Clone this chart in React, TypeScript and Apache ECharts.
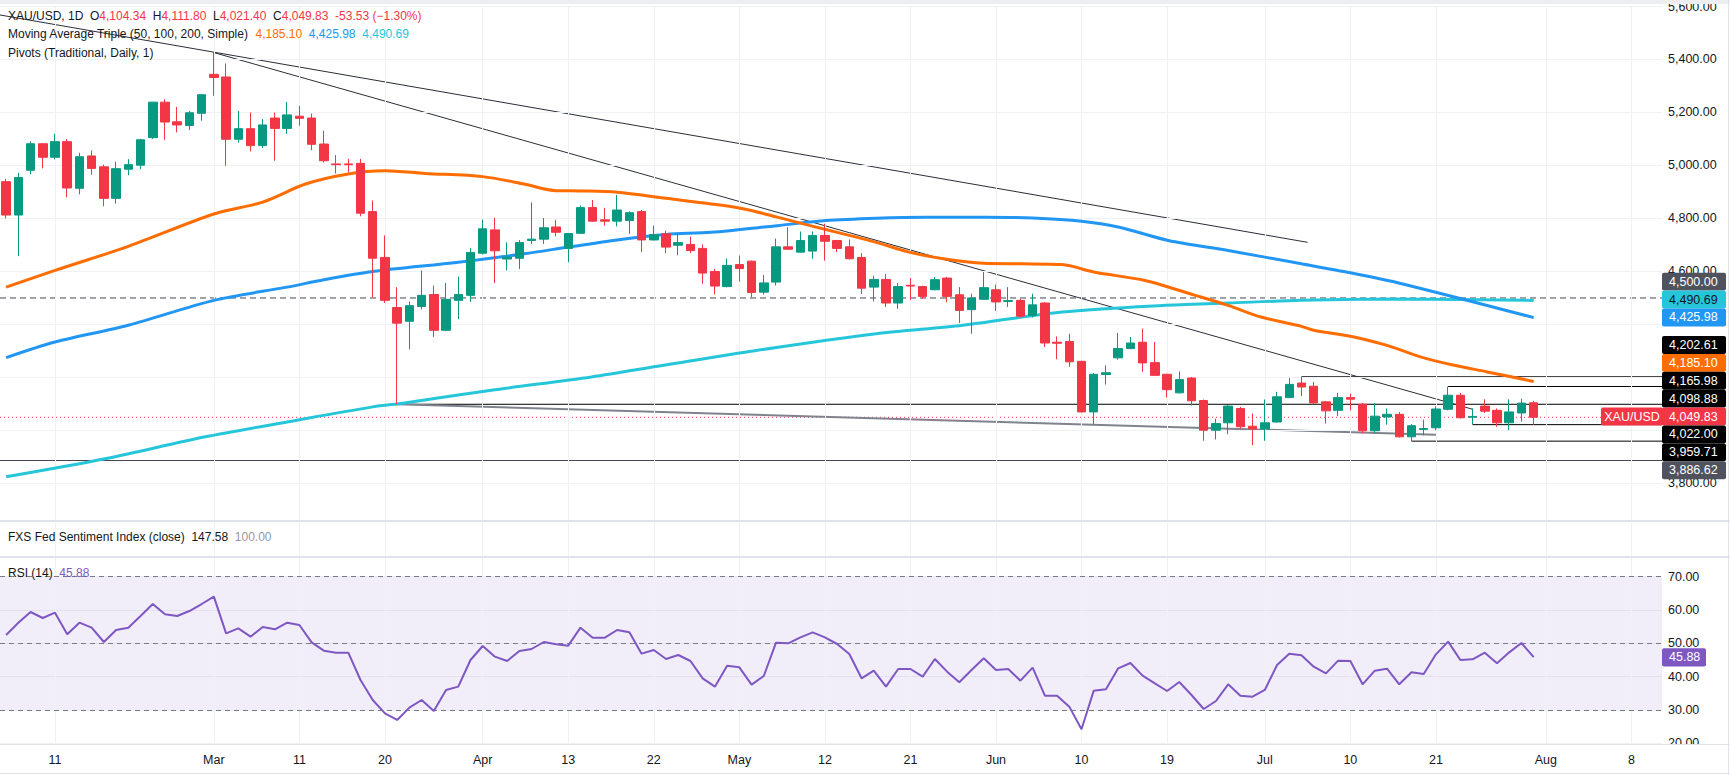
import React, { useEffect, useRef } from "react";
import * as echarts from "echarts";

// ---------- data ----------
const N_SLOTS = 136; // 126 trading days + future slots on the time axis

const TICK_INDEX = [4, 17, 24, 31, 39, 46, 53, 60, 67, 74, 81, 88, 95, 103, 110, 117, 126, 133];
const TICK_TEXT = ["11", "Mar", "11", "20", "Apr", "13", "22", "May", "12", "21", "Jun", "10", "19", "Jul", "10", "21", "Aug", "8"];

const PRICE_GRID = [3800, 4000, 4200, 4400, 4600, 4800, 5000, 5200, 5400, 5600];
// price-scale labels that are not hidden behind the price tags
const PRICE_LABELS = [3800, 4600, 4800, 5000, 5200, 5400, 5600];

// [open, high, low, close]
const OHLC: number[][] = [
  [4939, 4950, 4800, 4813], [4813, 4972, 4658, 4955], [4982, 5091, 4967, 5082], [5082, 5085, 4989, 5031],
  [5031, 5120, 5023, 5090], [5090, 5100, 4880, 4915], [4914, 5048, 4891, 5033], [5036, 5056, 4965, 4989],
  [4995, 5003, 4846, 4876], [4876, 5014, 4856, 4988], [4986, 5024, 4963, 5003], [5001, 5101, 4986, 5097],
  [5105, 5240, 5100, 5239], [5239, 5250, 5097, 5164], [5165, 5221, 5125, 5153], [5151, 5206, 5134, 5199],
  [5197, 5268, 5169, 5267], [5344, 5426, 5263, 5332], [5334, 5385, 4999, 5099], [5099, 5206, 5086, 5139],
  [5139, 5200, 5053, 5075], [5075, 5175, 5066, 5153], [5179, 5200, 5018, 5140], [5140, 5240, 5119, 5191],
  [5186, 5225, 5150, 5178], [5179, 5196, 5058, 5080], [5081, 5131, 5012, 5018], [5006, 5039, 4970, 5003],
  [5006, 5025, 4974, 5003], [5008, 5025, 4808, 4820], [4826, 4868, 4503, 4650], [4653, 4736, 4481, 4491],
  [4464, 4541, 4098.88, 4405], [4412, 4487, 4306, 4471], [4468, 4604, 4457, 4510], [4513, 4547, 4353, 4378],
  [4378, 4557, 4375, 4495], [4491, 4581, 4420, 4513], [4510, 4689, 4485, 4672], [4669, 4796, 4664, 4761],
  [4757, 4802, 4556, 4678], [4647, 4710, 4604, 4654], [4650, 4719, 4609, 4709], [4717, 4861, 4704, 4722],
  [4722, 4802, 4704, 4765], [4768, 4795, 4733, 4748], [4687, 4745, 4635, 4743], [4744, 4849, 4742, 4841],
  [4841, 4870, 4788, 4790], [4795, 4840, 4773, 4790], [4790, 4889, 4770, 4832], [4792, 4827, 4742, 4822],
  [4826, 4832, 4673, 4719], [4719, 4773, 4717, 4739], [4742, 4754, 4669, 4692], [4699, 4744, 4661, 4709],
  [4702, 4732, 4669, 4679], [4687, 4702, 4554, 4594], [4600, 4610, 4513, 4545], [4543, 4649, 4540, 4623],
  [4626, 4660, 4562, 4611], [4639, 4641, 4503, 4521], [4522, 4587, 4513, 4557], [4560, 4724, 4547, 4693],
  [4693, 4767, 4682, 4684], [4673, 4751, 4671, 4717], [4677, 4751, 4648, 4736], [4736, 4780, 4641, 4714],
  [4717, 4719, 4673, 4687], [4693, 4721, 4645, 4648], [4653, 4669, 4515, 4537], [4541, 4584, 4487, 4570],
  [4570, 4591, 4466, 4481], [4481, 4556, 4459, 4543], [4548, 4575, 4493, 4545], [4543, 4546, 4497, 4506],
  [4531, 4579, 4529, 4569], [4575, 4579, 4484, 4506], [4512, 4541, 4405, 4453], [4456, 4516, 4365, 4500],
  [4495, 4598, 4494, 4539], [4531, 4551, 4451, 4485], [4487, 4541, 4466, 4490], [4491, 4497, 4426, 4431],
  [4434, 4516, 4426, 4474], [4481, 4484, 4315, 4330], [4333, 4355, 4269, 4329], [4336, 4365, 4240, 4259],
  [4261, 4263, 4068, 4070], [4070, 4217, 4024, 4212], [4211, 4246, 4173, 4218], [4274, 4368, 4267, 4309],
  [4309, 4353, 4307, 4330], [4333, 4384, 4221, 4255], [4256, 4334, 4207, 4208], [4212, 4214, 4124, 4154],
  [4142, 4223, 4140, 4192], [4198, 4202, 4094, 4112], [4113, 4117, 3961, 4001], [4001, 4045, 3966, 4026],
  [4029, 4095, 3986, 4092], [4083, 4089, 4007, 4014], [4016, 4064, 3945, 4006], [4006, 4117, 3961, 4029],
  [4032, 4146, 4030, 4127], [4124, 4198, 4122, 4174], [4179, 4202.61, 4130, 4164], [4167, 4183, 4099, 4104],
  [4108, 4110, 4026, 4074], [4076, 4142, 4054, 4124], [4124, 4139, 4076, 4118], [4099, 4104, 3989, 3999],
  [3999, 4104, 3989, 4054], [4051, 4083, 4022, 4061], [4061, 4070, 3973, 3976], [3976, 4024, 3959.71, 4018],
  [4004, 4041, 3982, 4007], [4010, 4091, 4001, 4081], [4080, 4165.98, 4076, 4133], [4133, 4142, 4045, 4048],
  [4050, 4083, 4022, 4053], [4092, 4118, 4066, 4073], [4076, 4083, 4014, 4029], [4029, 4118, 4001, 4070],
  [4066, 4120, 4033, 4103.36], [4104.34, 4111.8, 4021.4, 4049.83],
];

const RSI = [
  52.5, 56.2, 59.4, 57.6, 59.2, 52.7, 56.2, 54.7, 50.4, 54.0, 54.7, 58.2, 61.8, 58.7, 58.2, 59.7, 61.8, 64.0,
  53.0, 54.5, 52.0, 54.9, 54.2, 56.2, 55.5, 50.3, 47.8, 47.2, 47.2, 39.0, 33.0, 29.0, 27.0, 30.7, 33.0, 29.7,
  36.0, 37.0, 45.0, 49.2, 46.0, 44.7, 47.7, 48.3, 50.4, 49.7, 49.3, 54.7, 51.7, 51.7, 54.0, 53.3, 46.9, 48.0,
  45.3, 46.5, 44.7, 39.5, 37.0, 43.3, 42.8, 37.6, 40.2, 50.2, 50.0, 51.8, 53.3, 51.8, 49.8, 46.8, 39.5, 41.8,
  37.0, 42.3, 42.3, 40.0, 45.3, 41.5, 38.3, 42.0, 45.5, 42.0, 42.3, 38.8, 42.7, 34.3, 34.3, 31.0, 24.2, 35.8,
  36.2, 42.5, 44.1, 40.3, 38.0, 35.7, 38.4, 34.5, 30.3, 32.7, 37.7, 34.3, 34.0, 36.0, 43.5, 46.9, 46.4, 43.0,
  41.0, 44.8, 44.7, 37.7, 41.8, 42.4, 37.7, 41.3, 40.8, 46.7, 50.5, 45.0, 45.2, 47.2, 44.0, 47.3, 50.1, 45.88,
];

// moving averages read at bar positions [barIndex, value]
const MA50 = [
  [0, 4541], [4, 4604], [10, 4695], [17, 4817], [21, 4862], [24.5, 4930], [28, 4968], [31, 4980], [34.3, 4970],
  [39, 4958], [42.4, 4930], [45, 4905], [47, 4904], [50, 4899], [54, 4876], [57.7, 4855], [60.4, 4836],
  [63.1, 4805], [65.8, 4773], [68.5, 4742], [71.2, 4710], [73.9, 4673], [76.7, 4648], [80, 4631], [83, 4629],
  [86.4, 4626], [89.1, 4597], [93.2, 4566], [97.3, 4510], [100, 4472], [102.7, 4428], [106, 4393], [107, 4378],
  [110.3, 4353], [113, 4321], [115.8, 4277], [118.5, 4246], [121.2, 4221], [125, 4185.1],
];
const MA100 = [
  [0, 4275], [4, 4334], [10, 4397], [17, 4491], [23, 4541], [26, 4569], [30, 4600], [37, 4635], [42.4, 4667],
  [46, 4692], [50.6, 4723], [54, 4740], [57.7, 4748], [63.1, 4773], [67.1, 4792], [71.2, 4801], [75.3, 4805],
  [80, 4805], [84, 4802], [88, 4790], [91, 4768], [95.1, 4717], [100, 4679], [106, 4629], [110, 4595],
  [114.2, 4554], [125, 4425.98],
];
const MA200 = [
  [0, 3825], [8.2, 3894], [16.3, 3976], [23.1, 4033], [30, 4089], [32.6, 4104], [39.7, 4152], [47.9, 4202],
  [53.8, 4246], [61.4, 4302], [71.2, 4365], [78.3, 4397], [86.4, 4447], [94.6, 4472], [100, 4481], [106, 4491],
  [114, 4496], [125, 4490.69],
];

// drawn trend lines [barIndex, price]
const TREND_UPPER = [[-0.5, 5568], [106.5, 4710]];
const TREND_MID = [[17, 5426], [120, 4080]];
const TREND_LOW = [[32, 4098.88], [117, 3984]];

// horizontal levels
const FULL_LEVELS = [4500, 3886.62];
const PIVOT_LEVELS = [4202.61, 4165.98, 4098.88, 4022.0, 3959.71];
const PIVOT_FROM = [106, 118, 32, 120, 115];

const FXS_VALUE = 147.58;
const FXS_BASE = 100.0;

// ---------- styling / layout ----------
const FONT = "'Liberation Sans', Arial, sans-serif";
const TXT = "#131722";
const UP = "#089981";
const DOWN = "#f23645";
const C50 = "#ff6d00";
const C100 = "#2196f3";
const C200 = "#26c6da";
const RSI_C = "#7e57c2";
const GRID_C = "#eff1f5";
const SEP_C = "#e0e3eb";

const PLOT_RIGHT = 1662;
const PITCH = 12.27;
const GRID_LEFT = PLOT_RIGHT - N_SLOTS * PITCH;
const RIGHT = 1730 - PLOT_RIGHT;
const Y_MAX = 5601.9;
const Y_MIN = 3659.5;
const RSI_TOP = 75.91;
const X_MAX = N_SLOTS - 0.5;
const LEGEND_SIZE = 12;

const fmt = (v: number) =>
  v.toLocaleString("en-US", { minimumFractionDigits: 2, maximumFractionDigits: 2 });

function buildOption() {
  const cats = Array.from({ length: N_SLOTS }, (_, i) => String(i));
  const last = OHLC[OHLC.length - 1];
  const prevClose = OHLC[OHLC.length - 2][3];
  const change = last[3] - prevClose;
  const pct = (change / prevClose) * 100;
  const ma50Last = MA50[MA50.length - 1][1];
  const ma100Last = MA100[MA100.length - 1][1];
  const ma200Last = MA200[MA200.length - 1][1];
  const rsiLast = RSI[RSI.length - 1];

  const vGrid = TICK_INDEX.map((i) => ({ xAxis: i }));
  const gridSeries = (xi: number, yi: number, extra: any[]) => ({
    type: "line",
    xAxisIndex: xi,
    yAxisIndex: yi,
    data: [],
    silent: true,
    z: 1,
    markLine: {
      silent: true,
      symbol: ["none", "none"],
      label: { show: false },
      lineStyle: { color: GRID_C, width: 1, type: "solid" },
      data: [...vGrid, ...extra],
    },
  });

  const seg = (data: number[][], color: string, width: number, type: any = "solid", z = 4) => ({
    type: "line",
    xAxisIndex: 1,
    yAxisIndex: 0,
    data,
    symbol: "none",
    silent: true,
    z,
    lineStyle: { color, width, type },
  });

  const maLine = (data: number[][], color: string) => ({
    type: "line",
    xAxisIndex: 1,
    yAxisIndex: 0,
    data,
    symbol: "none",
    silent: true,
    smooth: 0.3,
    z: 5,
    lineStyle: { color, width: 3 },
  });

  const series: any[] = [
    gridSeries(1, 0, PRICE_GRID.map((v) => ({ yAxis: v }))),
    gridSeries(2, 1, []),
    gridSeries(4, 2, []),
    seg([[-0.5, FULL_LEVELS[0]], [X_MAX, FULL_LEVELS[0]]], "#434651", 1, [6, 4], 3),
    seg([[-0.5, FULL_LEVELS[1]], [X_MAX, FULL_LEVELS[1]]], "#434651", 1, "solid", 3),
    ...PIVOT_LEVELS.map((lv, k) => seg([[PIVOT_FROM[k], lv], [X_MAX, lv]], "#000000", 1, "solid", 3)),
    seg([[-0.5, last[3]], [X_MAX, last[3]]], DOWN, 1, [1, 3], 3),
    seg(TREND_UPPER, "#2a2e39", 1),
    seg(TREND_MID, "#2a2e39", 1),
    seg(TREND_LOW, "#80838d", 2),
    {
      type: "candlestick",
      xAxisIndex: 0,
      yAxisIndex: 0,
      data: OHLC.map(([o, h, l, c]) => [o, c, l, h]),
      barWidth: 9,
      silent: true,
      z: 6,
      itemStyle: { color: UP, color0: DOWN, borderColor: UP, borderColor0: DOWN, borderWidth: 1 },
    },
    maLine(MA200, C200),
    maLine(MA100, C100),
    maLine(MA50, C50),
    {
      type: "line",
      xAxisIndex: 3,
      yAxisIndex: 2,
      data: RSI,
      symbol: "none",
      silent: true,
      z: 5,
      lineStyle: { color: RSI_C, width: 2 },
      markArea: {
        silent: true,
        itemStyle: { color: "rgba(126,87,194,0.1)" },
        data: [[{ yAxis: 30 }, { yAxis: 70 }]],
      },
      markLine: {
        silent: true,
        symbol: ["none", "none"],
        label: { show: false },
        lineStyle: { color: "#787b86", width: 1, type: [5, 4] },
        data: [{ yAxis: 70 }, { yAxis: 50 }, { yAxis: 30 }],
      },
    },
  ];

  const rich = (size: number) => ({
    k: { fill: TXT, fontSize: size, fontFamily: FONT },
    r: { fill: DOWN, fontSize: size, fontFamily: FONT },
    o: { fill: C50, fontSize: size, fontFamily: FONT },
    b: { fill: C100, fontSize: size, fontFamily: FONT },
    c: { fill: C200, fontSize: size, fontFamily: FONT },
    g: { fill: "#9598a1", fontSize: size, fontFamily: FONT },
    p: { fill: RSI_C, fontSize: size, fontFamily: FONT },
  });
  const label = (text: string, x: number, y: number, size = LEGEND_SIZE) => ({
    type: "text",
    x,
    y,
    z: 120,
    silent: true,
    style: { text, fontSize: size, fontFamily: FONT, fill: TXT, verticalAlign: "middle", align: "left", rich: rich(size) },
  });
  const tag = (y: number, bg: string, fg: string, text: string, x = PLOT_RIGHT, w = 64, h = 17.9, center = false) => [
    { type: "rect", z: 110, silent: true, shape: { x, y, width: w, height: h, r: 2 }, style: { fill: bg } },
    {
      type: "text",
      z: 111,
      silent: true,
      x: center ? x + w / 2 : x + 7,
      y: y + h / 2,
      style: { text, fill: fg, fontSize: 12.5, fontFamily: FONT, verticalAlign: "middle", align: center ? "center" : "left" },
    },
  ];

  const DARK = "#50535e";
  const H = 17.9;
  const g1 = 272.7;
  const g2 = 336;
  const lowerTags: [string, string, number][] = [
    ["#000000", "#ffffff", PIVOT_LEVELS[0]],
    [C50, "#ffffff", ma50Last],
    ["#000000", "#ffffff", PIVOT_LEVELS[1]],
    ["#000000", "#ffffff", PIVOT_LEVELS[2]],
    [DOWN, "#ffffff", last[3]],
    ["#000000", "#ffffff", PIVOT_LEVELS[3]],
    ["#000000", "#ffffff", PIVOT_LEVELS[4]],
    [DARK, "#ffffff", FULL_LEVELS[1]],
  ];

  const elements: any[] = [
    { type: "rect", z: 100, silent: true, shape: { x: 0, y: 0, width: 1730, height: 4 }, style: { fill: "#eceef2" } },
    { type: "line", z: 100, silent: true, shape: { x1: 0, y1: 521, x2: 1730, y2: 521 }, style: { stroke: SEP_C, lineWidth: 2 } },
    { type: "line", z: 100, silent: true, shape: { x1: 0, y1: 557, x2: 1730, y2: 557 }, style: { stroke: SEP_C, lineWidth: 2 } },
    { type: "rect", z: 100, silent: true, shape: { x: PLOT_RIGHT + 1, y: 745, width: 1730 - PLOT_RIGHT - 1, height: 30 }, style: { fill: "#ffffff" } },
    { type: "line", z: 101, silent: true, shape: { x1: 0, y1: 744.5, x2: 1730, y2: 744.5 }, style: { stroke: SEP_C, lineWidth: 1 } },
    { type: "line", z: 101, silent: true, shape: { x1: 0, y1: 773.5, x2: 1730, y2: 773.5 }, style: { stroke: SEP_C, lineWidth: 1 } },
    { type: "line", z: 101, silent: true, shape: { x1: 1728.5, y1: 0, x2: 1728.5, y2: 775 }, style: { stroke: SEP_C, lineWidth: 1 } },
    label(
      `{k|XAU/USD, 1D}  {k|O}{r|${fmt(last[0])}}  {k|H}{r|${fmt(last[1])}}  {k|L}{r|${fmt(last[2])}}  {k|C}{r|${fmt(last[3])}}  {r|${change.toFixed(2)} (${pct < 0 ? "\u2212" : "+"}${Math.abs(pct).toFixed(2)}%)}`,
      8,
      16
    ),
    label(
      `{k|Moving Average Triple (50, 100, 200, Simple)}  {o|${fmt(ma50Last)}}  {b|${fmt(ma100Last)}}  {c|${fmt(ma200Last)}}`,
      8,
      34.3
    ),
    label(`{k|Pivots (Traditional, Daily, 1)}`, 8, 52.7),
    label(`{k|FXS Fed Sentiment Index (close)}  {k|${fmt(FXS_VALUE)}}  {g|${fmt(FXS_BASE)}}`, 8, 537),
    label(`{k|RSI (14)}  {p|${fmt(rsiLast)}}`, 8, 572.7),
    ...tag(g1, DARK, "#ffffff", fmt(FULL_LEVELS[0])),
    ...tag(g1 + H, C200, TXT, fmt(ma200Last)),
    ...tag(g1 + 2 * H, C100, "#ffffff", fmt(ma100Last)),
    ...lowerTags.flatMap(([bg, fg, v], k) => tag(g2 + k * H, bg, fg, fmt(v))),
    ...tag(g2 + 4 * H, DOWN, "#ffffff", "XAU/USD", 1601, 62, H, true),
    ...tag(648.2, RSI_C, "#ffffff", fmt(rsiLast), PLOT_RIGHT, 44, 18.4),
  ];

  const valueX = (gridIndex: number) => ({ gridIndex, type: "value", min: -0.5, max: X_MAX, show: false });

  return {
    animation: false,
    backgroundColor: "#ffffff",
    textStyle: { fontFamily: FONT },
    grid: [
      { left: GRID_LEFT, right: RIGHT, top: 5, height: 515.7 },
      { left: GRID_LEFT, right: RIGHT, top: 521, height: 36 },
      { left: GRID_LEFT, right: RIGHT, top: 557, height: 186.3 },
    ],
    xAxis: [
      {
        gridIndex: 0,
        type: "category",
        data: cats,
        boundaryGap: true,
        axisLine: { show: false },
        axisTick: { show: false },
        axisLabel: { show: false },
        splitLine: { show: false },
      },
      valueX(0),
      valueX(1),
      {
        gridIndex: 2,
        type: "category",
        data: cats,
        boundaryGap: true,
        axisLine: { show: false },
        axisTick: { show: false },
        splitLine: { show: false },
        axisLabel: {
          interval: (idx: number) => TICK_INDEX.includes(idx),
          formatter: (_v: string, idx: number) => {
            const k = TICK_INDEX.indexOf(idx);
            return k >= 0 ? TICK_TEXT[k] : "";
          },
          color: TXT,
          fontSize: 12.5,
          fontFamily: FONT,
          margin: 10,
        },
      },
      valueX(2),
    ],
    yAxis: [
      {
        gridIndex: 0,
        type: "value",
        position: "right",
        min: Y_MIN,
        max: Y_MAX,
        axisLine: { show: false },
        axisTick: { show: false },
        splitLine: { show: false },
        axisLabel: {
          customValues: PRICE_LABELS,
          formatter: (v: number) => fmt(v),
          color: TXT,
          fontSize: 12.5,
          fontFamily: FONT,
          margin: 6,
          align: "left",
        },
      },
      { gridIndex: 1, type: "value", min: 0, max: 1, show: false },
      {
        gridIndex: 2,
        type: "value",
        position: "right",
        min: 20,
        max: RSI_TOP,
        interval: 10,
        axisLine: { show: false },
        axisTick: { show: false },
        splitLine: { show: true, lineStyle: { color: GRID_C } },
        axisLabel: {
          formatter: (v: number) => v.toFixed(2),
          showMaxLabel: false,
          color: TXT,
          fontSize: 12.5,
          fontFamily: FONT,
          margin: 6,
          align: "left",
        },
      },
    ],
    series,
    graphic: { elements },
  };
}

export default function App() {
  const ref = useRef<HTMLDivElement>(null);
  useEffect(() => {
    if (!ref.current) return;
    const chart = echarts.init(ref.current, null, { renderer: "svg" });
    chart.setOption(buildOption() as any);
    return () => chart.dispose();
  }, []);
  return (
    <div
      ref={ref}
      style={{ position: "fixed", left: 0, top: 0, width: 1730, height: 775, background: "#ffffff" }}
    />
  );
}
